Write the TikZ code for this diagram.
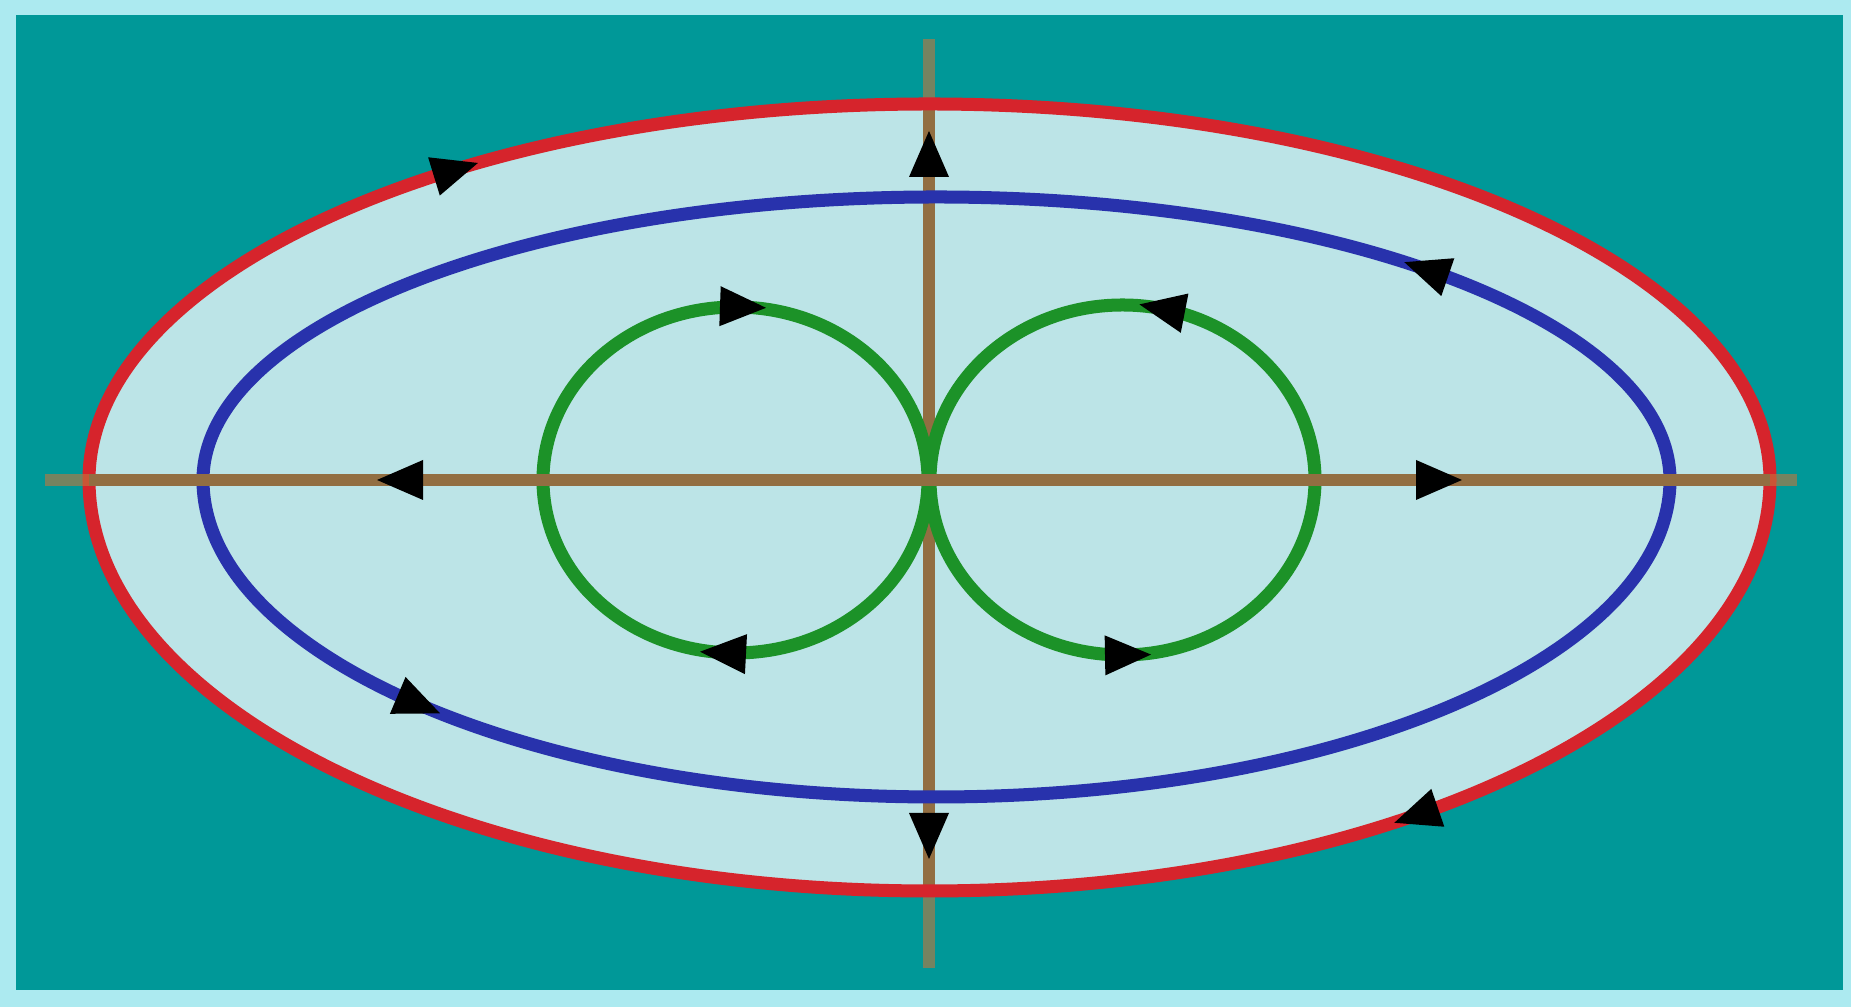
\documentclass[tikz,border=0pt]{standalone}
\usepackage{tikz}
\definecolor{bordercol}{RGB}{172,234,240}
\definecolor{tealbg}{RGB}{0,152,152}
\definecolor{innerfill}{RGB}{188,228,231}
\definecolor{redc}{RGB}{214,36,44}
\definecolor{bluec}{RGB}{40,50,172}
\definecolor{greenc}{RGB}{28,146,40}
\definecolor{brownc}{RGB}{146,110,66}
\definecolor{fadec}{RGB}{196,118,60}
\tikzset{
  curve/.style={line width=3.7pt},
  axisline/.style={brownc, line width=3.5pt},
  axisfade/.style={fadec, line width=3.5pt, opacity=0.6},
}
\newcommand{\arrowhd}[3]{\fill[black,shift={(#1,#2)},rotate=#3] (24,0) -- (-22,20) -- (-22,-20) -- cycle;}
\begin{document}
\begin{tikzpicture}[x=0.01cm,y=0.01cm]
\useasboundingbox (0,0) rectangle (1851,1007);
\fill[bordercol] (0,0) rectangle (1851,1007);
\fill[tealbg] (16,17) rectangle (1843,992);
% inner fill of red ellipse
\fill[innerfill] (89,527) arc[start angle=180,end angle=0,x radius=840.5,y radius=376]
  arc[start angle=0,end angle=-180,x radius=840.5,y radius=411] -- cycle;
% vertical axis
\draw[axisfade] (929,968) -- (929,39);
\draw[axisline] (929,903) -- (929,116);
% red ellipse
\draw[curve,redc] (89,527) arc[start angle=180,end angle=0,x radius=840.5,y radius=376]
  arc[start angle=0,end angle=-180,x radius=840.5,y radius=411] -- cycle;
% blue curve
\draw[curve,bluec] (203,527) arc[start angle=180,end angle=0,x radius=733.5,y radius=283]
  arc[start angle=0,end angle=-180,x radius=733.5,y radius=317] -- cycle;
% green circles
\draw[curve,greenc] (735.5,527) ellipse[x radius=192.5,y radius=173];
\draw[curve,greenc] (1122.5,527) ellipse[x radius=192.5,y radius=175];
% horizontal axis
\draw[axisfade] (45,527) -- (1797,527);
\draw[axisline] (89,527) -- (1770,527);
% arrowheads on axes
\arrowhd{929}{852}{90}
\arrowhd{929}{172}{-90}
\arrowhd{401}{527}{180}
\arrowhd{1438}{527}{0}
% arrowheads on red
\arrowhd{455}{837}{17}
\arrowhd{1417}{192}{199}
% arrowheads on blue
\arrowhd{1427}{737}{161}
\arrowhd{418}{303}{-23}
% arrowheads on green
\arrowhd{742}{700}{-2}
\arrowhd{724}{354}{177}
\arrowhd{1163}{698}{169}
\arrowhd{1127}{352}{1}
\end{tikzpicture}
\end{document}
